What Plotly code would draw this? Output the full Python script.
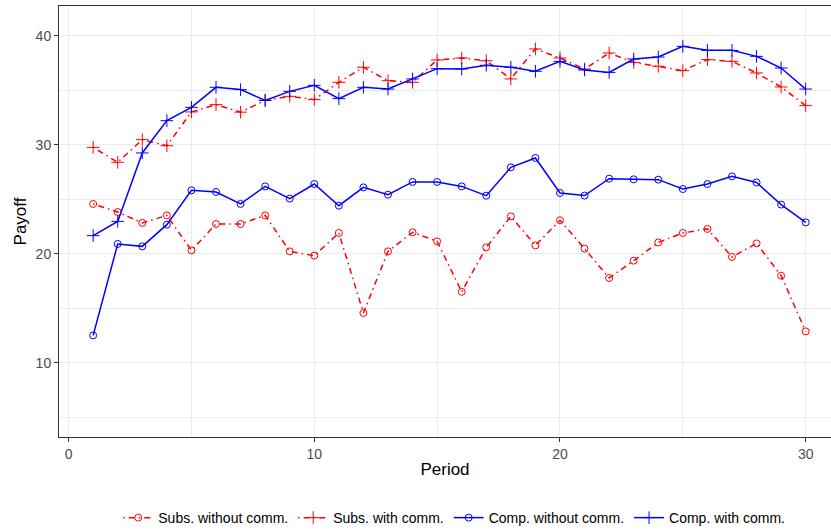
import plotly.graph_objects as go

periods = list(range(1, 31))

subs_without = [24.56, 23.82, 22.82, 23.51, 20.30, 22.72, 22.72, 23.51, 20.21, 19.82,
                21.90, 14.56, 20.21, 21.96, 21.13, 16.50, 20.58, 23.42, 20.76, 23.06,
                20.46, 17.77, 19.36, 21.03, 21.90, 22.27, 19.70, 20.94, 17.98, 12.87]
subs_with = [29.75, 28.38, 30.46, 29.90, 33.00, 33.67, 32.98, 34.06, 34.43, 34.13,
             35.72, 37.10, 35.87, 35.72, 37.77, 37.95, 37.70, 36.03, 38.78, 37.95,
             36.94, 38.41, 37.55, 37.19, 36.79, 37.80, 37.64, 36.58, 35.29, 33.58]
comp_without = [12.50, 20.89, 20.67, 22.66, 25.81, 25.66, 24.56, 26.17, 25.05, 26.39,
                24.40, 26.08, 25.41, 26.58, 26.58, 26.17, 25.32, 27.92, 28.78, 25.57,
                25.33, 26.88, 26.82, 26.79, 25.93, 26.39, 27.09, 26.53, 24.50, 22.87]
comp_with = [21.65, 22.96, 29.24, 32.20, 33.42, 35.26, 35.05, 34.06, 34.89, 35.44,
             34.22, 35.26, 35.10, 36.03, 36.97, 36.94, 37.28, 37.10, 36.73, 37.64,
             36.85, 36.63, 37.86, 38.04, 39.02, 38.65, 38.65, 38.10, 37.03, 35.10]

series_names = ["Subs. without comm.", "Subs. with comm.",
                "Comp. without comm.", "Comp. with comm."]

RED = "#FF0000"
BLUE = "#0000FF"
DOTDASH = "1.5px,4px,6px,4px"

fig = go.Figure()

specs = [
    (series_names[0], subs_without, RED, DOTDASH, "circle-open", 7),
    (series_names[1], subs_with, RED, DOTDASH, "cross-thin-open", 9),
    (series_names[2], comp_without, BLUE, "solid", "circle-open", 7),
    (series_names[3], comp_with, BLUE, "solid", "cross-thin-open", 9),
]
for name, vals, col, dash, sym, sz in specs:
    fig.add_trace(go.Scatter(
        x=periods, y=vals, name=name, mode="lines+markers",
        line=dict(color=col, width=1.5, dash=dash),
        marker=dict(symbol=sym, size=sz, color=col, line=dict(color=col, width=1)),
    ))

axis_common = dict(
    showgrid=True, gridcolor="#EBEBEB", gridwidth=1,
    zeroline=False,
    showline=True, linecolor="#333333", linewidth=1, mirror=True,
    ticks="outside", ticklen=4, tickcolor="#333333", tickwidth=1,
    tickfont=dict(size=14, color="#4D4D4D", family="Liberation Sans, Arial, sans-serif"),
    minor=dict(dtick=5, showgrid=True, gridcolor="#EBEBEB", gridwidth=0.6, ticks=""),
)

fig.update_layout(
    width=831, height=531,
    margin=dict(l=59, r=0, t=6, b=94, autoexpand=False),
    paper_bgcolor="white", plot_bgcolor="white",
    font=dict(family="Liberation Sans, Arial, sans-serif", size=14, color="black"),
    xaxis=dict(range=[-0.39, 31.03], tickvals=[0, 10, 20, 30],
               title=dict(text="Period", font=dict(size=17, color="black"), standoff=2),
               **axis_common),
    yaxis=dict(range=[3.18, 42.72], tickvals=[10, 20, 30, 40],
               title=dict(text="Payoff", font=dict(size=17, color="black"), standoff=4),
               **axis_common),
    legend=dict(orientation="h", x=0.512, xanchor="center", y=-0.188, yanchor="middle",
                font=dict(size=14, color="black"), bgcolor="rgba(0,0,0,0)"),
    showlegend=True,
)

fig.write_html("out.html")
